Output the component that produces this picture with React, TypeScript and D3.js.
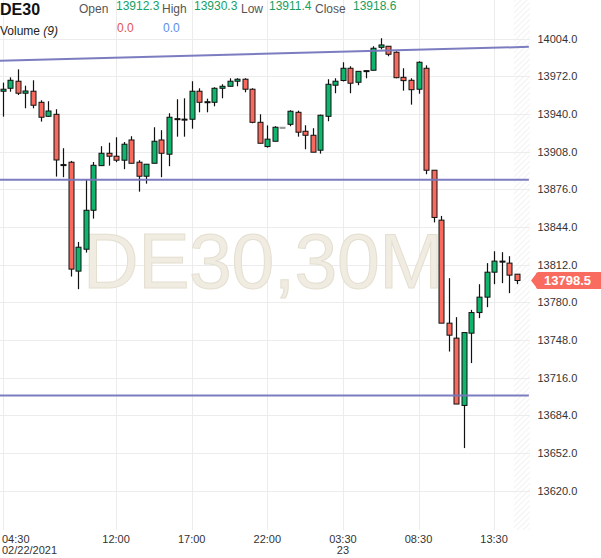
import React from "react";
import * as d3 from "d3";

// ---- data ----
const opens = [13959.3,13961.8,13967.8,13957.6,13959.3,13949.9,13938.0,13939.7,13897.0,13899.0,13806.5,13825.1,13858.2,13896.1,13906.6,13904.1,13900.7,13917.9,13899.0,13887.1,13898.1,13917.9,13905.8,13936.0,13935.6,13935.5,13959.3,13950.2,13949.9,13961.8,13963.5,13967.8,13969.5,13961.0,13932.9,13912.3,13916.8,13928.7,13931.2,13941.4,13925.3,13921.9,13909.2,13938.0,13964.4,13968.4,13978.8,13966.9,13976.5,13977.1,13996.6,13997.5,13992.4,13971.1,13968.6,13961.0,13978.8,13892.2,13849.8,13762.3,13749.6,13692.4,13753.8,13771.3,13784.4,13805.6,13815.0,13813.3,13803.9];
const highs = [13966.6,13971.1,13977.9,13964.0,13968.6,13951.6,13950.8,13944.0,13910.9,13900.1,13831.3,13884.6,13899.2,13912.6,13915.6,13920.2,13916.2,13921.1,13900.7,13897.3,13928.7,13926.2,13940.6,13952.5,13953.3,13967.8,13961.8,13953.0,13962.7,13965.2,13970.3,13970.3,13970.3,13961.8,13939.7,13930.3,13929.6,13928.7,13943.1,13942.8,13930.4,13927.9,13939.4,13969.5,13970.3,13983.9,13980.5,13976.2,13976.8,13997.5,14004.3,13997.5,13993.2,13978.8,13970.3,13984.7,13981.3,13892.2,13853.4,13800.5,13767.4,13754.3,13773.6,13795.4,13813.3,13823.4,13822.6,13819.2,13803.9];
const lows = [13937.7,13958.9,13956.1,13944.8,13944.8,13933.5,13937.5,13886.8,13886.3,13801.9,13791.2,13822.3,13851.1,13896.1,13896.1,13899.0,13893.1,13898.1,13874.0,13880.8,13898.1,13886.3,13895.6,13920.7,13920.7,13927.5,13941.4,13941.4,13946.5,13953.3,13963.5,13963.5,13958.4,13932.1,13915.1,13911.4,13916.8,13928.7,13929.6,13920.7,13910.0,13907.5,13906.3,13933.8,13957.6,13967.6,13957.6,13964.4,13970.3,13977.1,13994.9,13989.0,13970.3,13959.8,13947.9,13957.2,13888.8,13847.9,13762.3,13738.2,13693.6,13656.2,13728.4,13766.6,13775.9,13795.4,13796.3,13787.8,13795.4];
const closes = [13961.0,13968.6,13957.6,13959.5,13947.4,13937.2,13942.5,13900.9,13896.5,13808.2,13826.8,13858.2,13896.4,13906.6,13904.1,13900.7,13914.3,13898.1,13887.1,13897.3,13916.8,13906.6,13937.2,13935.6,13935.5,13959.3,13949.9,13950.4,13961.8,13963.5,13967.8,13969.5,13961.0,13932.9,13915.1,13918.6,13928.7,13928.7,13942.3,13924.5,13921.9,13907.5,13938.9,13965.2,13967.8,13978.8,13966.1,13976.2,13976.8,13995.8,13998.6,13990.7,13970.8,13968.3,13960.6,13983.9,13892.2,13852.1,13762.3,13752.1,13693.6,13754.3,13771.3,13784.4,13805.6,13815.0,13815.0,13803.1,13798.5];

const yTicks = [14004, 13972, 13940, 13908, 13876, 13844, 13812, 13780, 13748, 13716, 13684, 13652, 13620];
const xTickIndex = [0, 15, 25, 35, 45, 55, 65];
const xTickTime = ["04:30", "12:00", "17:00", "22:00", "03:30", "08:30", "13:30"];
const xTickDate = ["02/22/2021", "", "", "", "23", "", ""];

// trend lines: [startIndex, startPrice, endIndex, endPrice]
const trendStartIdx = [-0.36, -0.36, -0.36];
const trendStartPrice = [13985.2, 13884.2, 13700.9];
const trendEndIdx = [69.6, 69.6, 69.6];
const trendEndPrice = [13997.0, 13884.2, 13700.9];

const symbol = "DE30";
const watermark = "DE30,30M";
const ohlcLabels = ["Open", "High", "Low", "Close"];
const ohlcValues = ["13912.3", "13930.3", "13911.4", "13918.6"];
const volumeValues = ["0.0", "0.0"];
const lastPrice = 13798.5;

// ---- styles ----
const FONT = "'Liberation Sans', Arial, sans-serif";
const GREEN = "#0fb56c";
const RED = "#f86a5d";
const GRID = "#ececec";
const TREND = "#7575bd";

export default function App() {
  const W = 601, H = 558;
  const plotRight = 530;
  const plotBottom = 530;

  const x = d3.scaleLinear().domain([0, 65]).range([2.7, 494.1]);
  const y = d3.scaleLinear().domain([13620, 14004]).range([490.7, 38.6]);

  const bodyW = 5;
  const snap = (v: number) => Math.round(v) + 0.5;

  const ohlcX = [79, 162, 241, 315];
  const valX = [116, 194, 269, 353];

  return (
    <svg width={W} height={H} style={{ position: "absolute", left: 0, top: 0, background: "#fff" }} fontFamily={FONT}>
      <defs>
        <pattern id="hatch" width="4" height="4" patternUnits="userSpaceOnUse" patternTransform="rotate(45)">
          <line x1="0" y1="0" x2="0" y2="4" stroke="#e9e9e9" strokeWidth="1.2" />
        </pattern>
      </defs>
      <rect x={0} y={0} width={W} height={H} fill="#fff" />
      {/* hatch (future area) */}
      <rect x={514} y={0} width={plotRight - 514} height={plotBottom} fill="url(#hatch)" />

      {/* grid */}
      {yTicks.map((t) => (
        <line key={"gy" + t} x1={0} x2={plotRight} y1={snap(y(t))} y2={snap(y(t))} stroke={GRID} />
      ))}
      {xTickIndex.map((i) => (
        <line key={"gx" + i} x1={snap(x(i))} x2={snap(x(i))} y1={0} y2={plotBottom} stroke={GRID} />
      ))}

      {/* watermark */}
      <text x={263} y={288} textAnchor="middle" fontSize={77} fill="#f0ece2" stroke="#e4dfd0" strokeWidth={1} style={{ letterSpacing: "-0.5px" }}>
        {watermark}
      </text>

      {/* candles */}
      {opens.map((o, i) => {
        const c = closes[i], h = highs[i], l = lows[i];
        const cx = snap(x(i));
        const yTop = y(Math.max(o, c));
        const yBot = y(Math.min(o, c));
        const flat = h === l;
        const fill = c > o ? GREEN : c < o ? RED : "#111";
        const bh = Math.max(1, yBot - yTop);
        return (
          <g key={"c" + i}>
            <line x1={cx} x2={cx} y1={y(h)} y2={y(l)} stroke={flat ? "#999" : "#111"} strokeWidth={1.2} />
            <rect
              x={cx - bodyW / 2}
              y={yTop}
              width={bodyW}
              height={bh}
              fill={fill}
              stroke={flat ? "#999" : "#111"}
              strokeWidth={1}
            />
          </g>
        );
      })}

      {/* trend lines */}
      {trendStartIdx.map((s, k) => (
        <line
          key={"tr" + k}
          x1={x(s)}
          y1={y(trendStartPrice[k])}
          x2={x(trendEndIdx[k])}
          y2={y(trendEndPrice[k])}
          stroke={TREND}
          strokeWidth={2}
          strokeOpacity={0.95}
        />
      ))}

      {/* y axis labels */}
      {yTicks.map((t) => (
        <text key={"yl" + t} x={537.5} y={y(t) + 4} fontSize={11} fill="#333">
          {t.toFixed(1)}
        </text>
      ))}

      {/* last price tag */}
      {(() => {
        const py = y(lastPrice);
        const top = py - 8.5, bot = py + 8.5;
        const d = `M531,${py} L536,${top + 2} Q536,${top} 539,${top} L601,${top} L601,${bot} L539,${bot} Q536,${bot} 536,${bot - 2} Z`;
        return (
          <g>
            <path d={d} fill="#fa6b5f" />
            <text x={567.5} y={py + 4.6} textAnchor="middle" fontSize={13} fontWeight="bold" fill="#fff">
              {lastPrice.toFixed(1)}
            </text>
          </g>
        );
      })()}

      {/* x axis labels */}
      {xTickIndex.map((i, k) => {
        const first = k === 0;
        const px = first ? 2 : x(i);
        return (
          <g key={"xl" + i}>
            <text x={px} y={543} fontSize={11} fill="#333" textAnchor={first ? "start" : "middle"}>
              {xTickTime[k]}
            </text>
            {xTickDate[k] && (
              <text x={px} y={554} fontSize={11} fill="#333" textAnchor={first ? "start" : "middle"}>
                {xTickDate[k]}
              </text>
            )}
          </g>
        );
      })}

      {/* header */}
      <text x={0} y={15} fontSize={16} fontWeight="bold" fill="#111">{symbol}</text>
      {ohlcLabels.map((lab, k) => (
        <g key={"h" + k}>
          <text x={ohlcX[k]} y={13} fontSize={12} fill="#555">{lab}</text>
          <text x={valX[k]} y={10} fontSize={12} fill="#16a062">{ohlcValues[k]}</text>
        </g>
      ))}
      <text x={0} y={35} fontSize={12} fill="#222">
        Volume <tspan fontStyle="italic">(9)</tspan>
      </text>
      <text x={117} y={32} fontSize={12} fill="#e0554c">{volumeValues[0]}</text>
      <text x={163} y={32} fontSize={12} fill="#5b8ded">{volumeValues[1]}</text>
    </svg>
  );
}
